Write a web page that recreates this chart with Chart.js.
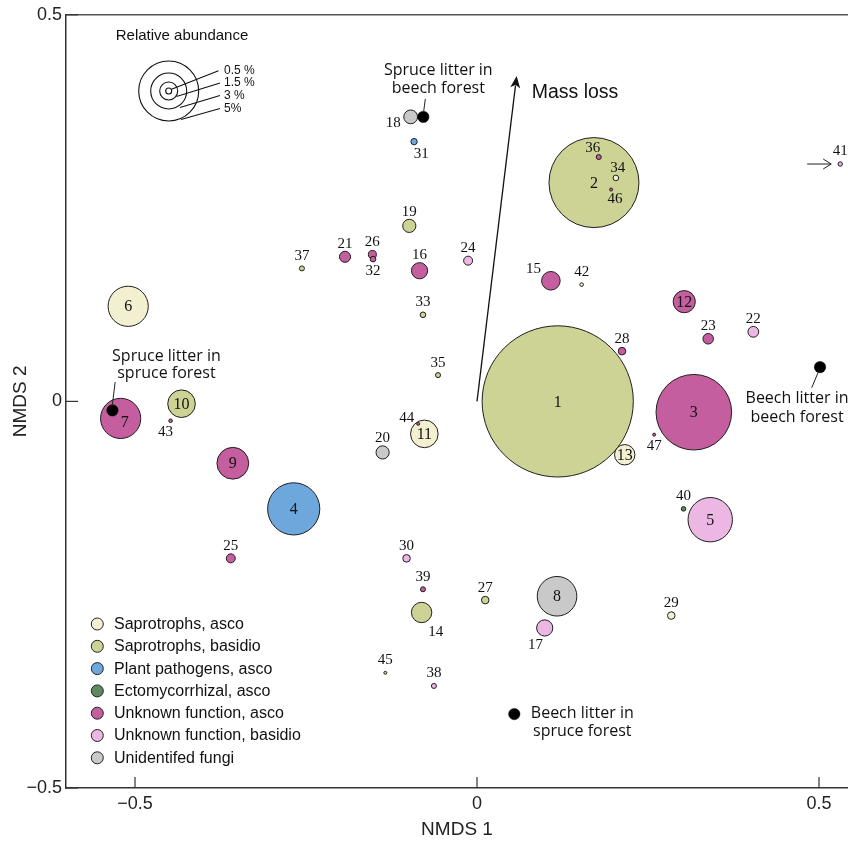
<!DOCTYPE html>
<html><head><meta charset="utf-8">
<script src="https://cdn.jsdelivr.net/npm/chart.js@4.4.0/dist/chart.umd.min.js"></script>
<style>html,body{margin:0;padding:0;background:#fff;}canvas{display:block;}</style>
</head><body>
<canvas id="c" width="848" height="841" style="width:848px;height:841px"></canvas>
<script>
// ---------------- data ----------------
const otuIds = [1,2,3,4,5,6,7,8,9,10,11,12,13,14,15,16,17,18,19,20,21,22,23,24,25,26,27,28,29,30,31,32,33,34,35,36,37,38,39,40,41,42,43,44,45,46,47];
const nmds1 = [0.118,0.171,0.317,-0.268,0.341,-0.510,-0.521,0.117,-0.357,-0.432,-0.077,0.303,0.216,-0.081,0.108,-0.084,0.099,-0.097,-0.099,-0.138,-0.193,0.404,0.338,-0.013,-0.360,-0.153,0.012,0.212,0.284,-0.103,-0.092,-0.152,-0.079,0.203,-0.057,0.178,-0.256,-0.063,-0.079,0.302,0.531,0.153,-0.448,-0.086,-0.134,0.196,0.259];
const nmds2 = [0.000,0.283,-0.014,-0.139,-0.153,0.123,-0.022,-0.252,-0.080,-0.003,-0.042,0.129,-0.069,-0.273,0.156,0.169,-0.293,0.368,0.227,-0.066,0.187,0.090,0.081,0.182,-0.203,0.190,-0.257,0.065,-0.277,-0.203,0.336,0.184,0.112,0.289,0.034,0.316,0.172,-0.368,-0.243,-0.139,0.307,0.151,-0.025,-0.029,-0.351,0.274,-0.043];
// relative abundance (%)
const abundance = [12.6,7.5,6.3,4.35,3.7,3.35,3.35,3.3,2.65,2.3,2.3,1.85,1.7,1.7,1.55,1.35,1.35,1.15,1.1,1.1,0.92,0.9,0.88,0.75,0.75,0.67,0.63,0.63,0.63,0.63,0.53,0.47,0.47,0.47,0.42,0.42,0.42,0.42,0.42,0.38,0.37,0.3,0.3,0.25,0.25,0.25,0.25];
// functional group index (see groups)
const guild = [1,1,4,2,5,0,4,6,4,1,0,4,0,1,4,4,5,6,1,6,4,5,4,5,4,4,1,4,0,5,2,4,1,0,1,4,1,5,4,3,5,0,4,4,1,4,4];
const groups = ['Saprotrophs, asco','Saprotrophs, basidio','Plant pathogens, asco','Ectomycorrhizal, asco','Unknown function, asco','Unknown function, basidio','Unidentifed fungi'];
const sizeLegendValues = [0.5,1.5,3,5];
const sizeLegendLabels = ['0.5 %','1.5 %','3 %','5%'];
const siteNames = [['Spruce litter in','beech forest'],['Spruce litter in','spruce forest'],['Beech litter in','beech forest'],['Beech litter in','spruce forest']];
const siteX = [-0.0785,-0.533,0.5015,0.0545];
const siteY = [0.368,-0.0116,0.0443,-0.4044];
const massLossVector = [0.058,0.421];
const xTicks = [-0.5,0,0.5];
const yTicks = [-0.5,0,0.5];

// ---------------- styling / layout ----------------
const PX_PER_PCT = 6;
const GROUP_FILL = ['#F3F0D2','#CDD394','#6EA7DB','#5E8A60','#C45E9E','#EDB7E4','#C9C9C9'];
const INK = '#1e1e1e';
const SANS = '"Liberation Sans", Arial, sans-serif';
const SERIF = '"Liberation Serif", "Times New Roman", serif';
const NOTE = '"Open Sans", sans-serif';
// label placement code per OTU (c centre, t top, b bottom, l left, tl, br, bl)
const labelPlace = ['c','c','c','c','c','c','c','c','c','c','c','c','c','br','tl','t','bl','l','t','t','t','t','t','t','t','t','t','t','t','t','br','b','t','t','t','t','t','t','t','t','t','t','b','tl','t','b','b'];
const labelNudge = {7:[4,3],34:[2,3],36:[-6,3],46:[4,-2],43:[-5,0],44:[-2,-2]};
// site annotation layout relative to dot: [text dx, line1 dy, line2 dy, leader x1,y1,x2,y2]
const siteNoteLayout = [
  [15,-46,-28, 2,-18, 0.4,-5.5],
  [54,-54,-36.5, 2.7,-28.3, 0,-6],
  [-23,31,50, -8.3,20.6, -2,5.5],
  [68,-0.7,17.7, null,null,null,null]
];

const order = otuIds.map((_, i) => i).sort((a, b) => abundance[b] - abundance[a]);
const otuData = order.map(i => ({x: nmds1[i], y: nmds2[i], r: abundance[i] * PX_PER_PCT, id: otuIds[i], g: guild[i]}));
const siteData = siteX.map((x, i) => ({x: x, y: siteY[i]}));

function fmt(v){ if (v === 0) return '0'; return (v < 0 ? '\u2212' : '') + Math.abs(v); }

const framePlugin = {
  id: 'frame',
  beforeDatasetsDraw(chart) {
    const {ctx, chartArea: a, scales: {x, y}} = chart;
    ctx.save();
    ctx.strokeStyle = '#555'; ctx.lineWidth = 1.5;
    ctx.beginPath(); ctx.moveTo(a.left, a.top); ctx.lineTo(a.right, a.top); ctx.stroke();
    ctx.lineWidth = 1.2; ctx.strokeStyle = '#333';
    xTicks.forEach(v => { const px = x.getPixelForValue(v); ctx.beginPath(); ctx.moveTo(px, a.bottom); ctx.lineTo(px, a.bottom - 11); ctx.stroke(); });
    yTicks.forEach(v => { const py = y.getPixelForValue(v); ctx.beginPath(); ctx.moveTo(a.left, py); ctx.lineTo(a.left + 12, py); ctx.stroke(); });
    // mass loss arrow
    const x0 = x.getPixelForValue(0), y0 = y.getPixelForValue(0);
    const x1 = x.getPixelForValue(massLossVector[0]), y1 = y.getPixelForValue(massLossVector[1]);
    const ang = Math.atan2(y1 - y0, x1 - x0);
    const hl = 12, hw = 5;
    ctx.strokeStyle = '#111'; ctx.fillStyle = '#111'; ctx.lineWidth = 1.3;
    ctx.beginPath(); ctx.moveTo(x0, y0); ctx.lineTo(x1 - Math.cos(ang) * hl * 0.8, y1 - Math.sin(ang) * hl * 0.8); ctx.stroke();
    ctx.beginPath();
    ctx.moveTo(x1, y1);
    ctx.lineTo(x1 - Math.cos(ang) * hl + Math.sin(ang) * hw, y1 - Math.sin(ang) * hl - Math.cos(ang) * hw);
    ctx.lineTo(x1 - Math.cos(ang) * hl * 0.75, y1 - Math.sin(ang) * hl * 0.75);
    ctx.lineTo(x1 - Math.cos(ang) * hl - Math.sin(ang) * hw, y1 - Math.sin(ang) * hl + Math.cos(ang) * hw);
    ctx.closePath(); ctx.fill();
    ctx.font = '19.5px ' + SANS; ctx.textAlign = 'left'; ctx.textBaseline = 'middle';
    ctx.fillText('Mass loss', x1 + 15, y1 + 17);
    ctx.restore();
  },
  afterDatasetsDraw(chart) {
    const {ctx} = chart;
    const meta = chart.getDatasetMeta(0);
    ctx.save();
    ctx.fillStyle = '#111'; ctx.textAlign = 'center'; ctx.textBaseline = 'middle';
    meta.data.forEach((el, k) => {
      const d = otuData[k];
      const r = d.r;
      const code = labelPlace[d.id - 1];
      let dx = 0, dy = 0;
      const dt = Math.max(r + 8.5, 13.5), db = Math.max(r + 7, 10.5);
      if (code === 't') { dy = -dt; }
      else if (code === 'b') { dy = db; }
      else if (code === 'l') { dx = -(r + 10.5); dy = 5; }
      else if (code === 'tl') { dx = -(r + 8); dy = -(r + 3.5); }
      else if (code === 'br') { dx = r + 4; dy = r + 8; }
      else if (code === 'bl') { dx = -r - 1; dy = r + 8.5; }
      const n = labelNudge[d.id]; if (n) { dx += n[0]; dy += n[1]; }
      ctx.font = (code === 'c' ? '16px ' : '15px ') + SERIF;
      ctx.fillText(String(d.id), el.x + dx, el.y + dy + 1);
    });
    // arrow pointing to OTU 41
    const i41 = otuData.findIndex(d => d.id === 41);
    const e41 = meta.data[i41];
    ctx.strokeStyle = '#222'; ctx.lineWidth = 1;
    const tx = e41.x - 9, ty = e41.y;
    ctx.beginPath(); ctx.moveTo(e41.x - 33, ty); ctx.lineTo(tx, ty);
    ctx.moveTo(tx - 8, ty - 5); ctx.lineTo(tx, ty); ctx.lineTo(tx - 8, ty + 5); ctx.stroke();
    // site annotations
    const sm = chart.getDatasetMeta(1);
    ctx.font = '16px ' + NOTE; ctx.fillStyle = '#111';
    sm.data.forEach((el, i) => {
      const L = siteNoteLayout[i];
      ctx.textAlign = 'center';
      ctx.fillText(siteNames[i][0], el.x + L[0], el.y + L[1]);
      ctx.fillText(siteNames[i][1], el.x + L[0], el.y + L[2]);
      if (L[3] !== null) {
        ctx.beginPath(); ctx.moveTo(el.x + L[3], el.y + L[4]); ctx.lineTo(el.x + L[5], el.y + L[6]); ctx.stroke();
      }
    });
    ctx.restore();
  },
  afterDraw(chart) {
    const {ctx} = chart;
    ctx.save();
    // size legend
    ctx.fillStyle = '#111'; ctx.textAlign = 'center'; ctx.textBaseline = 'middle';
    ctx.font = '15px ' + SANS;
    ctx.fillText('Relative abundance', 182, 36);
    const cx = 168.7, cy = 91;
    ctx.strokeStyle = '#111'; ctx.lineWidth = 1.1;
    const ends = [[171.5,89.3,218.5,70.7],[176.5,96.5,220,83],[180,107.5,220,95.5],[181,119.5,220,108.5]];
    sizeLegendValues.forEach((v, i) => {
      ctx.beginPath(); ctx.arc(cx, cy, v * PX_PER_PCT, 0, Math.PI * 2); ctx.stroke();
      const e = ends[i];
      ctx.beginPath(); ctx.moveTo(e[0], e[1]); ctx.lineTo(e[2], e[3]); ctx.stroke();
    });
    ctx.font = '12px ' + SANS; ctx.textAlign = 'left';
    sizeLegendLabels.forEach((t, i) => { ctx.fillText(t, 224, [70.5, 83, 96, 109][i]); });
    // group legend
    ctx.font = '16px ' + SANS;
    groups.forEach((g, i) => {
      const y = 624 + i * 22.3;
      ctx.beginPath(); ctx.arc(97.3, y, 6, 0, Math.PI * 2);
      ctx.fillStyle = GROUP_FILL[i]; ctx.fill();
      ctx.strokeStyle = '#222'; ctx.lineWidth = 1; ctx.stroke();
      ctx.fillStyle = '#111';
      ctx.fillText(g, 114, y + 0.5);
    });
    ctx.restore();
  }
};

new Chart(document.getElementById('c'), {
  type: 'bubble',
  data: {
    datasets: [
      {
        label: 'OTUs', order: 1, data: otuData, clip: false,
        backgroundColor: ctx => GROUP_FILL[ctx.raw ? ctx.raw.g : 0],
        borderColor: INK, borderWidth: 1
      },
      {
        label: 'Sites', order: 0, data: siteData, radius: 5.7, clip: false,
        backgroundColor: '#000', borderColor: '#000', borderWidth: 0.5
      }
    ]
  },
  options: {
    responsive: false, animation: false, devicePixelRatio: 1, events: [],
    layout: {autoPadding: false, padding: {top: 14, right: 0, left: 0, bottom: 0}},
    plugins: {legend: {display: false}, tooltip: {enabled: false}},
    scales: {
      x: {
        type: 'linear', min: -0.6009, max: 0.5424,
        afterBuildTicks: s => { s.ticks = xTicks.map(v => ({value: v})); },
        afterFit: s => { s.height = 53; },
        grid: {display: false, drawTicks: false},
        border: {display: true, color: '#333', width: 1.5},
        ticks: {callback: v => fmt(v), color: '#222', font: {family: SANS, size: 18}, padding: 5, maxRotation: 0},
        title: {display: true, text: 'NMDS 1', color: '#222', font: {family: SANS, size: 19}, padding: {top: 0, bottom: 0}}
      },
      y: {
        type: 'linear', min: -0.5, max: 0.5,
        afterBuildTicks: s => { s.ticks = yTicks.map(v => ({value: v})); },
        afterFit: s => { s.width = 66; },
        grid: {display: false, drawTicks: false},
        border: {display: true, color: '#333', width: 1.5},
        ticks: {callback: v => fmt(v), color: '#222', font: {family: SANS, size: 18}, padding: 4},
        title: {display: true, text: 'NMDS 2', color: '#222', font: {family: SANS, size: 19}, padding: {top: 9, bottom: 0}}
      }
    }
  },
  plugins: [framePlugin]
});
</script>
</body></html>
